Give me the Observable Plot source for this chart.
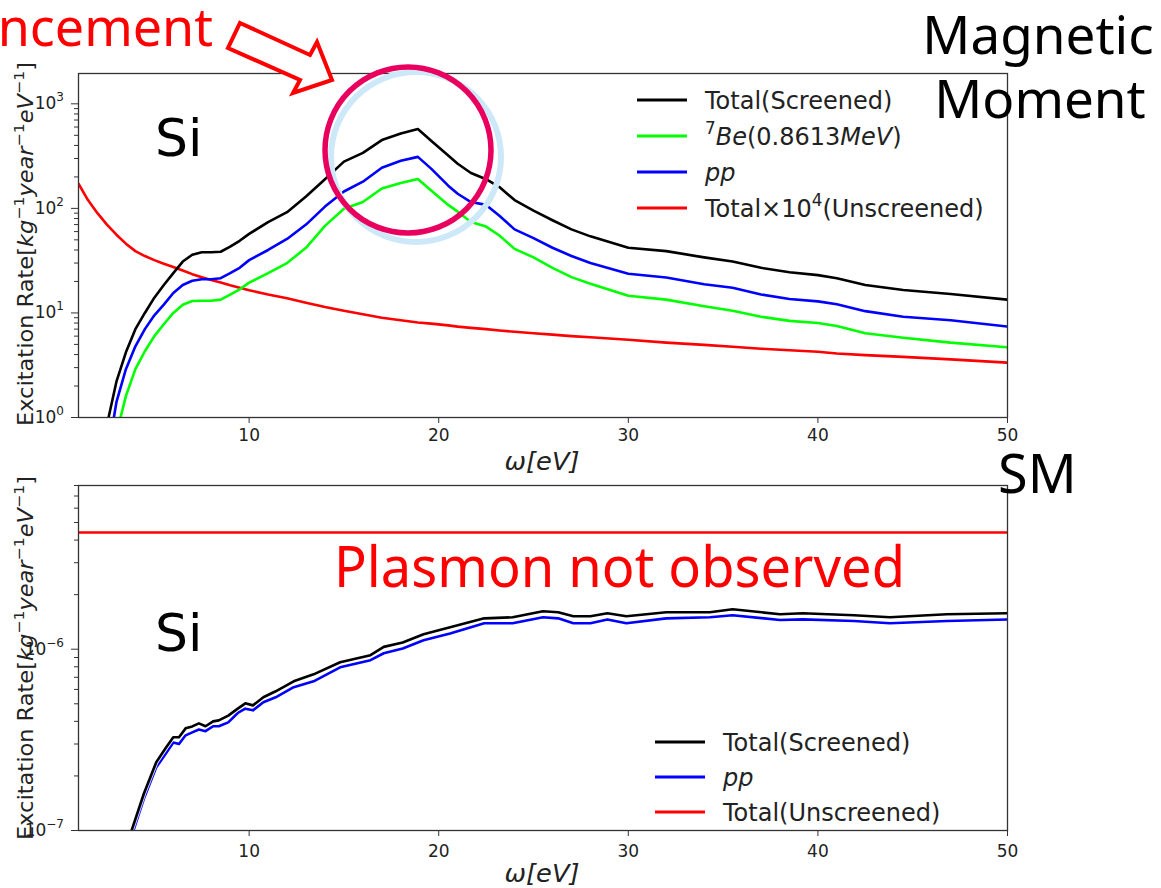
<!DOCTYPE html>
<html><head><meta charset="utf-8">
<script src="https://cdn.jsdelivr.net/npm/d3@7"></script>
<script src="https://cdn.jsdelivr.net/npm/@observablehq/plot@0.6"></script>
<style>
body{margin:0;background:#fff;width:1161px;height:888px;overflow:hidden;position:relative;}
#top,#bottom,#overlay{position:absolute;left:0;}
#top{top:0}
#bottom{top:460px}
#overlay{top:0;pointer-events:none}
</style></head><body>
<div id="top"></div><div id="bottom"></div>
<svg id="overlay" width="1161" height="888"></svg>
<script>
// ---------- DATA: top panel (Magnetic moment) ----------
const omegaTop = [1, 1.5, 2, 2.5, 3, 3.5, 4, 4.5, 5, 5.5, 6, 6.5, 7, 7.5, 8, 8.5, 9, 9.5, 10, 11, 12, 13, 14, 15, 16, 17, 18, 18.9, 19.6, 20.5, 21, 21.7, 22.5, 23.2, 24, 25, 26, 27, 28, 30, 32, 34, 35.5, 37, 38.5, 40, 41, 42.5, 44.5, 47, 50];
const totalScreenedTop = [null, null, null, 0.85, 2.2, 4.2, 7, 10, 14, 18.5, 24, 31, 36, 38, 38, 38.5, 43, 49, 57, 74, 92, 130, 190, 280, 340, 450, 520, 575, 443, 320, 267, 218, 190, 160, 120, 95, 77, 63, 54, 42, 39, 34, 31, 27, 24.5, 23, 21.5, 18.5, 16.6, 15.2, 13.4];
const ppTop = [null, null, null, 0.4, 1.4, 2.9, 4.8, 7, 9.5, 12, 15.5, 18.5, 20.3, 21, 21, 21.5, 24, 27, 32, 40, 51, 70, 104, 145, 180, 245, 285, 311, 240, 165, 138, 115, 108, 85, 63, 52, 42, 35, 30, 23.7, 21.8, 18.8, 17.4, 15, 13.6, 12.9, 12.1, 10.4, 9.2, 8.5, 7.4];
const be7Top = [null, null, null, null, 0.7, 1.6, 2.9, 4.3, 6, 7.8, 10, 12, 13, 13.1, 13.1, 13.4, 15, 16.8, 19.5, 24, 30, 42, 68, 99, 115, 155, 175, 191, 148, 108, 93, 74, 67, 55, 41, 34, 27, 22, 19, 14.6, 13.4, 11.6, 10.5, 9.2, 8.4, 8.0, 7.5, 6.4, 5.8, 5.2, 4.7];
const unscreenedTop = [172, 120, 90, 70, 56, 46, 39, 35, 32, 29.5, 27.5, 25.5, 23.5, 22, 20.7, 19.6, 18.4, 17.4, 16.5, 15, 13.8, 12.5, 11.4, 10.5, 9.7, 9.0, 8.5, 8.1, 7.9, 7.6, 7.4, 7.2, 7.0, 6.8, 6.6, 6.4, 6.2, 6.0, 5.85, 5.55, 5.2, 4.95, 4.75, 4.55, 4.4, 4.25, 4.1, 3.95, 3.8, 3.6, 3.35];

// ---------- DATA: bottom panel (SM) ----------
const omegaBottom = [3.8, 4.45, 5.1, 5.6, 6.0, 6.3, 6.65, 7.0, 7.35, 7.7, 8.1, 8.4, 8.9, 9.4, 9.8, 10.2, 10.75, 11.4, 12.35, 13.4, 14.8, 16.4, 17.1, 18.1, 19.2, 20.6, 22.4, 23.9, 25.5, 26.3, 27.1, 28.0, 28.9, 29.9, 32.0, 34.3, 35.5, 38.0, 39.2, 41.9, 43.8, 46.8, 50];
const totalScreenedBottom = [1.0e-7, 1.6e-7, 2.38e-7, 2.85e-7, 3.27e-7, 3.27e-7, 3.66e-7, 3.75e-7, 3.9e-7, 3.76e-7, 4.0e-7, 4.05e-7, 4.3e-7, 4.7e-7, 5.03e-7, 4.9e-7, 5.43e-7, 5.86e-7, 6.65e-7, 7.27e-7, 8.47e-7, 9.27e-7, 1.03e-6, 1.09e-6, 1.21e-6, 1.32e-6, 1.48e-6, 1.5e-6, 1.62e-6, 1.6e-6, 1.52e-6, 1.52e-6, 1.58e-6, 1.52e-6, 1.6e-6, 1.6e-6, 1.66e-6, 1.56e-6, 1.58e-6, 1.54e-6, 1.5e-6, 1.56e-6, 1.58e-6];
const ppBottom = [0.93e-7, 1.5e-7, 2.23e-7, 2.65e-7, 3.06e-7, 3.0e-7, 3.35e-7, 3.48e-7, 3.61e-7, 3.53e-7, 3.76e-7, 3.76e-7, 3.95e-7, 4.45e-7, 4.7e-7, 4.6e-7, 5.1e-7, 5.43e-7, 6.17e-7, 6.65e-7, 7.95e-7, 8.7e-7, 9.5e-7, 1.01e-6, 1.12e-6, 1.22e-6, 1.39e-6, 1.39e-6, 1.5e-6, 1.48e-6, 1.39e-6, 1.39e-6, 1.46e-6, 1.39e-6, 1.48e-6, 1.5e-6, 1.54e-6, 1.45e-6, 1.46e-6, 1.43e-6, 1.39e-6, 1.43e-6, 1.46e-6];
const omegaUnscreenedBottom = [1, 50];
const unscreenedBottom = [4.4e-6, 4.4e-6];

// ---------- ticks & labels ----------
const xTicks = [10, 20, 30, 40, 50];
const yMajorTop = [1, 10, 100, 1000];
const yMajorTopExp = ["0", "1", "2", "3"];
const yMajorBottom = [1e-7, 1e-6];
const yMajorBottomExp = ["−7", "−6"];
const legendTopLabels = [
  [{t: "Total(Screened)"}],
  [{t: "7", sup: true}, {t: "Be", i: true}, {t: "(0.8613"}, {t: "MeV", i: true}, {t: ")"}],
  [{t: "pp", i: true}],
  [{t: "Total×10"}, {t: "4", sup: true}, {t: "(Unscreened)"}]
];
const legendTopColors = ["#000000", "#00ff00", "#0000ff", "#ff0000"];
const legendBottomLabels = [
  [{t: "Total(Screened)"}],
  [{t: "pp", i: true}],
  [{t: "Total(Unscreened)"}]
];
const legendBottomColors = ["#000000", "#0000ff", "#ff0000"];
const yLabelSegs = [{t: "Excitation Rate["}, {t: "kg", i: true}, {t: "−1", sup: true}, {t: "year", i: true}, {t: "−1", sup: true}, {t: "eV", i: true}, {t: "−1", sup: true}, {t: "]"}];
const xLabelSegs = [{t: "ω[eV]", i: true}];

function minorTicks(lo, hi) {
  const out = [];
  for (let d = Math.floor(Math.log10(lo)); d <= Math.ceil(Math.log10(hi)); d++)
    for (let m = 2; m <= 9; m++) { const v = m * Math.pow(10, d); if (v >= lo && v <= hi * 1.0001) out.push(v); }
  return out;
}

const TEXT = "#222";
const baseStyle = {fontFamily: "DejaVu Sans", fontSize: "17px", color: TEXT, background: "none", overflow: "visible"};

function addSegs(sel, segs, size) {
  let up = false;
  segs.forEach(s => {
    const ts = sel.append("tspan").text(s.t);
    if (s.i) ts.attr("font-style", "italic");
    if (s.sup && !up) { ts.attr("dy", -0.42 * size).attr("font-size", 0.7 * size); up = true; }
    else if (s.sup) { ts.attr("font-size", 0.7 * size); }
    else if (up) { ts.attr("dy", 0.42 * size); up = false; }
  });
}

function decorate(svg, o) {
  const root = d3.select(svg);
  root.selectAll('g[aria-label="x-axis tick label"]').attr("font-size", 17).attr("fill", TEXT)
    .selectAll("text").attr("font-size", 17);
  const g = root.append("g").attr("font-family", "DejaVu Sans").attr("fill", TEXT).attr("text-anchor", "start");
  // y tick labels 10^n
  const ys = svg.scale("y");
  o.yMajor.forEach((v, k) => {
    const t = g.append("text").attr("x", 64).attr("y", ys.apply(v) + 6).attr("text-anchor", "end").attr("font-size", 17);
    t.append("tspan").text("10");
    t.append("tspan").attr("dy", -8).attr("font-size", 12).text(o.yExp[k]);
  });
  // y label
  const yl = g.append("text").attr("transform", `translate(33,${o.yLabelCenter}) rotate(-90)`)
    .attr("text-anchor", "middle").attr("font-size", 21)
    .attr("textLength", 364).attr("lengthAdjust", "spacingAndGlyphs");
  addSegs(yl, yLabelSegs, 21);
  // x label
  const xl = g.append("text").attr("x", 542).attr("y", o.xLabelY).attr("text-anchor", "middle").attr("font-size", 24)
    .attr("textLength", 75).attr("lengthAdjust", "spacingAndGlyphs");
  addSegs(xl, xLabelSegs, 24);
  // legend
  o.labels.forEach((segs, k) => {
    const y = o.legY + k * o.legStep;
    g.append("line").attr("x1", o.legX).attr("x2", o.legX + 50).attr("y1", y).attr("y2", y)
      .attr("stroke", o.colors[k]).attr("stroke-width", 3);
    const t = g.append("text").attr("x", o.legX + 68).attr("y", y + 8.5).attr("font-size", 24);
    addSegs(t, segs, 24);
  });
  // material label
  g.append("text").attr("x", 155).attr("y", o.siY).attr("font-size", 52).attr("fill", "#000").text("Si");
}

const lineOpts = {strokeWidth: 2.6, clip: true};

const topPlot = Plot.plot({
  width: 1161, height: 460,
  marginTop: 73, marginBottom: 43, marginLeft: 78, marginRight: 154,
  x: {domain: [1, 50]},
  y: {type: "log", domain: [1, 1950]},
  style: {...baseStyle, background: "white"},
  marks: [
    Plot.line(omegaTop, {x: omegaTop, y: unscreenedTop, stroke: "#ff0000", ...lineOpts}),
    Plot.line(omegaTop, {x: omegaTop, y: be7Top, stroke: "#00ff00", ...lineOpts}),
    Plot.line(omegaTop, {x: omegaTop, y: ppTop, stroke: "#0000ff", ...lineOpts}),
    Plot.line(omegaTop, {x: omegaTop, y: totalScreenedTop, stroke: "#000000", ...lineOpts}),
    Plot.frame({stroke: "#333", strokeWidth: 1.3}),
    Plot.axisX({ticks: xTicks, tickSize: 6, tickPadding: 5, label: null, stroke: "#333", fontSize: 17}),
    Plot.axisY({ticks: minorTicks(1, 1950), tickSize: 4, tickFormat: () => "", label: null, stroke: "#333"}),
    Plot.axisY({ticks: yMajorTop, tickSize: 7, tickFormat: () => "", label: null, stroke: "#333"})
  ]
});
decorate(topPlot, {yLabelCenter: 244, xLabelY: 470, legX: 637, legY: 100, legStep: 36,
  labels: legendTopLabels, colors: legendTopColors, siY: 156, yMajor: yMajorTop, yExp: yMajorTopExp});
document.getElementById("top").appendChild(topPlot);

const bottomPlot = Plot.plot({
  width: 1161, height: 428,
  marginTop: 25, marginBottom: 58, marginLeft: 78, marginRight: 154,
  x: {domain: [1, 50]},
  y: {type: "log", domain: [1e-7, 8e-6]},
  style: baseStyle,
  marks: [
    Plot.line(omegaUnscreenedBottom, {x: omegaUnscreenedBottom, y: unscreenedBottom, stroke: "#ff0000", ...lineOpts}),
    Plot.line(omegaBottom, {x: omegaBottom, y: ppBottom, stroke: "#0000ff", ...lineOpts}),
    Plot.line(omegaBottom, {x: omegaBottom, y: totalScreenedBottom, stroke: "#ffffff", strokeWidth: 4.6, clip: true, strokeOpacity: 0.8}),
    Plot.line(omegaBottom, {x: omegaBottom, y: totalScreenedBottom, stroke: "#000000", ...lineOpts}),
    Plot.frame({stroke: "#333", strokeWidth: 1.3}),
    Plot.axisX({ticks: xTicks, tickSize: 6, tickPadding: 8, label: null, stroke: "#333", fontSize: 17}),
    Plot.axisY({ticks: minorTicks(1e-7, 8e-6), tickSize: 4, tickFormat: () => "", label: null, stroke: "#333"}),
    Plot.axisY({ticks: yMajorBottom, tickSize: 7, tickFormat: () => "", label: null, stroke: "#333"})
  ]
});
decorate(bottomPlot, {yLabelCenter: 198, xLabelY: 422, legX: 655, legY: 282, legStep: 35,
  labels: legendBottomLabels, colors: legendBottomColors, siY: 191, yMajor: yMajorBottom, yExp: yMajorBottomExp});
document.getElementById("bottom").appendChild(bottomPlot);

// ---------- slide annotations overlay ----------
const ov = d3.select("#overlay");
ov.append("circle").attr("cx", 416).attr("cy", 157).attr("r", 85).attr("fill", "none")
  .attr("stroke", "#cde9f9").attr("stroke-width", 6);
ov.append("circle").attr("cx", 408).attr("cy", 150).attr("r", 83).attr("fill", "none")
  .attr("stroke", "#e9005e").attr("stroke-width", 5.5);
ov.append("polygon").attr("points", "240,23 310,55 317,42 332,80 293,93 300,80 228,48")
  .attr("fill", "#fff").attr("stroke", "#ff0000").attr("stroke-width", 4).attr("stroke-linejoin", "miter");
const ann = ov.append("g").attr("font-family", "Noto Sans");
ann.append("text").attr("x", 213).attr("y", 46).attr("text-anchor", "end").attr("font-size", 52)
  .attr("fill", "#ff0000").text("Enhancement");
ann.append("text").attr("x", 1038).attr("y", 54).attr("text-anchor", "middle").attr("font-size", 53)
  .attr("fill", "#000").text("Magnetic");
ann.append("text").attr("x", 1040).attr("y", 118).attr("text-anchor", "middle").attr("font-size", 53)
  .attr("fill", "#000").text("Moment");
ann.append("text").attr("x", 998).attr("y", 493).attr("font-size", 54).attr("fill", "#000").text("SM");
ann.append("text").attr("x", 334).attr("y", 587).attr("font-size", 57).attr("fill", "#ff0000")
  .attr("textLength", 571).attr("lengthAdjust", "spacingAndGlyphs").text("Plasmon not observed");
</script></body></html>
